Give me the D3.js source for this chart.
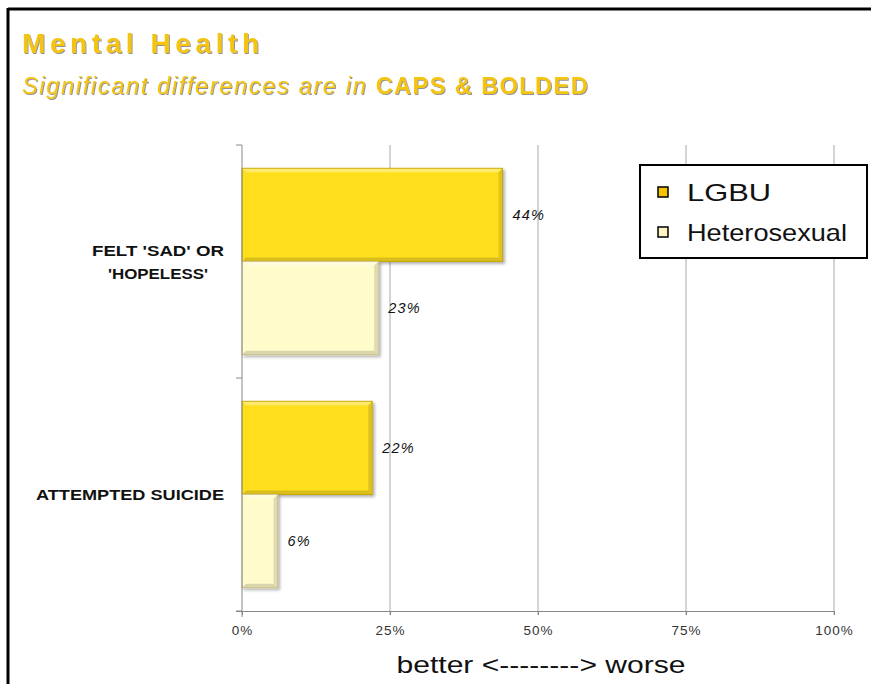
<!DOCTYPE html>
<html>
<head>
<meta charset="utf-8">
<script src="https://cdn.jsdelivr.net/npm/d3@7"></script>
<style>
  body { margin: 0; background: #fff; }
  svg { display: block; }
</style>
</head>
<body>
<svg id="chart" width="871" height="684"></svg>
<script>
const categories = [["FELT 'SAD' OR", "'HOPELESS'"], ["ATTEMPTED SUICIDE"]];
const categoryKeys = ["sad", "suicide"];
const seriesNames = ["LGBU", "Heterosexual"];
const lgbuValues = [44, 22];
const heteroValues = [23, 6];
const xTicks = [0, 25, 50, 75, 100];
const xTickLabels = ["0%", "25%", "50%", "75%", "100%"];
const seriesColors = ["#FFDF1F", "#FFFBCB"];
const seriesEdge = ["#C9A800", "#CFC48A"];
const legendSwatch = ["#F5C400", "#FFF4BF"];

const FONT = "Liberation Sans, Arial, sans-serif";
const svg = d3.select("#chart");
const defs = svg.append("defs");

const f = defs.append("filter").attr("id", "shadow").attr("x", "-10%").attr("y", "-10%").attr("width", "130%").attr("height", "130%");
f.append("feDropShadow").attr("dx", 2).attr("dy", 2).attr("stdDeviation", 1.5).attr("flood-color", "#000").attr("flood-opacity", 0.3);

const tf = defs.append("filter").attr("id", "tshadow");
tf.append("feDropShadow").attr("dx", 1).attr("dy", 1).attr("stdDeviation", 0.6).attr("flood-color", "#777").attr("flood-opacity", 0.8);

// frame
svg.append("line").attr("x1", 8).attr("x2", 871).attr("y1", 9).attr("y2", 9).attr("stroke", "#000").attr("stroke-width", 3);
svg.append("line").attr("x1", 8).attr("x2", 8).attr("y1", 8).attr("y2", 684).attr("stroke", "#000").attr("stroke-width", 3);

// titles
svg.append("text").attr("x", 22).attr("y", 53)
  .attr("font-family", FONT).attr("font-weight", "bold")
  .attr("font-size", 28).attr("fill", "#F5C50A").attr("filter", "url(#tshadow)")
  .attr("textLength", 237).attr("lengthAdjust", "spacing")
  .text("Mental Health");
const sub = svg.append("text").attr("x", 22).attr("y", 94)
  .attr("font-family", FONT)
  .attr("font-size", 23.5).attr("fill", "#F5C50A").attr("filter", "url(#tshadow)");
sub.append("tspan").attr("font-style", "italic")
  .attr("textLength", 352).attr("lengthAdjust", "spacing")
  .text("Significant differences are in ");
sub.append("tspan").attr("font-weight", "bold")
  .attr("textLength", 212).attr("lengthAdjust", "spacing")
  .text("CAPS & BOLDED");

const plot = { left: 242, right: 834, top: 145, bottom: 611 };
const x = d3.scaleLinear().domain([0, 100]).range([plot.left, plot.right]);
const y = d3.scaleBand().domain(categoryKeys).range([plot.top, plot.bottom]).paddingInner(0).paddingOuter(0);
const yInner = d3.scaleBand().domain(seriesNames).range([0, y.bandwidth()]).paddingOuter(0.25).paddingInner(0);

// gridlines
svg.append("g").selectAll("line").data(xTicks.slice(1)).join("line")
  .attr("x1", d => x(d)).attr("x2", d => x(d))
  .attr("y1", plot.top).attr("y2", plot.bottom + 4)
  .attr("stroke", "#A8A8A8").attr("stroke-width", 1);

// bars
const data = categoryKeys.map((k, i) => ({ key: k, values: [lgbuValues[i], heteroValues[i]] }));
const groups = svg.append("g").selectAll("g").data(data).join("g")
  .attr("transform", d => `translate(0,${y(d.key)})`);

groups.each(function(d) {
  const g = d3.select(this);
  d.values.forEach((v, si) => {
    const bx = x(0), by = yInner(seriesNames[si]), bw = x(v) - x(0), bh = yInner.bandwidth();
    const bg = g.append("g").attr("filter", "url(#shadow)");
    bg.append("rect").attr("x", bx).attr("y", by).attr("width", bw).attr("height", bh)
      .attr("fill", seriesColors[si]).attr("stroke", seriesEdge[si]).attr("stroke-width", 1);
    const b = 4;
    bg.append("path").attr("d", `M${bx+0.5},${by+0.5} L${bx+bw-0.5},${by+0.5} L${bx+bw-b},${by+b} L${bx+b},${by+b} Z`)
      .attr("fill", "#fff").attr("opacity", 0.35);
    bg.append("path").attr("d", `M${bx+bw-0.5},${by+0.5} L${bx+bw-0.5},${by+bh-0.5} L${bx+bw-b},${by+bh-b} L${bx+bw-b},${by+b} Z`)
      .attr("fill", "#000").attr("opacity", 0.12);
    bg.append("path").attr("d", `M${bx+0.5},${by+bh-0.5} L${bx+bw-0.5},${by+bh-0.5} L${bx+bw-b},${by+bh-b} L${bx+b},${by+bh-b} Z`)
      .attr("fill", "#000").attr("opacity", 0.15);
    g.append("text").attr("x", x(v) + 10).attr("y", by + bh / 2 + 5)
      .attr("font-family", FONT).attr("font-style", "italic")
      .attr("font-size", 14.5).attr("letter-spacing", 1.2).attr("fill", "#111").text(v + "%");
  });
});

// axes
const xAxis = d3.axisBottom(x).tickValues(xTicks).tickSize(4).tickFormat((d, i) => xTickLabels[i]);
const gx = svg.append("g").attr("transform", `translate(0,${plot.bottom})`).call(xAxis);
gx.select(".domain").attr("d", `M${plot.left - 6},0.5H${plot.right}`).attr("stroke", "#888");
gx.selectAll(".tick line").attr("stroke", "#888");
gx.selectAll(".tick text").attr("font-family", FONT).attr("font-size", 13.5).attr("letter-spacing", 1)
  .attr("fill", "#333").attr("dy", "1.25em");

const yAxisG = svg.append("g");
yAxisG.append("line").attr("x1", plot.left).attr("x2", plot.left).attr("y1", plot.top).attr("y2", plot.bottom + 6)
  .attr("stroke", "#888");
const boundaries = [y(categoryKeys[0]), y(categoryKeys[1]), y(categoryKeys[1]) + y.bandwidth()];
yAxisG.selectAll("line.tk").data(boundaries).join("line").attr("class", "tk")
  .attr("x1", plot.left - 6).attr("x2", plot.left).attr("y1", d => d).attr("y2", d => d).attr("stroke", "#888");

// category labels
const labelWidths = [[132, 100], [188]];
categoryKeys.forEach((k, i) => {
  const lines = categories[i];
  const cy = y(k) + y.bandwidth() / 2;
  const lh = 23;
  lines.forEach((ln, j) => {
    const yy = cy - (lines.length - 1) * lh / 2 + j * lh + 5.5;
    svg.append("text").attr("text-anchor", "middle")
      .attr("font-family", FONT).attr("font-weight", "bold")
      .attr("font-size", 14.5).attr("fill", "#111")
      .attr("x", lines.length > 1 ? 158 : 130).attr("y", yy)
      .attr("textLength", labelWidths[i][j]).attr("lengthAdjust", "spacingAndGlyphs")
      .text(ln);
  });
});

// x title
svg.append("text").attr("x", 541).attr("y", 673).attr("text-anchor", "middle")
  .attr("font-family", FONT).attr("font-size", 24).attr("fill", "#111")
  .attr("textLength", 289).attr("lengthAdjust", "spacingAndGlyphs")
  .text("better <--------> worse");

// legend
const lg = svg.append("g");
lg.append("rect").attr("x", 640).attr("y", 165).attr("width", 227).attr("height", 93)
  .attr("fill", "#fff").attr("stroke", "#000").attr("stroke-width", 2);
const legendWidths = [84, 160];
seriesNames.forEach((s, i) => {
  const ly = 192 + i * 40;
  lg.append("rect").attr("x", 658).attr("y", ly - 5).attr("width", 10).attr("height", 10)
    .attr("fill", legendSwatch[i]).attr("stroke", "#000").attr("stroke-width", 1.5);
  lg.append("text").attr("x", 687).attr("y", ly + 9)
    .attr("font-family", FONT).attr("font-size", 24).attr("fill", "#111")
    .attr("textLength", legendWidths[i]).attr("lengthAdjust", "spacingAndGlyphs").text(s);
});
</script>
</body>
</html>
